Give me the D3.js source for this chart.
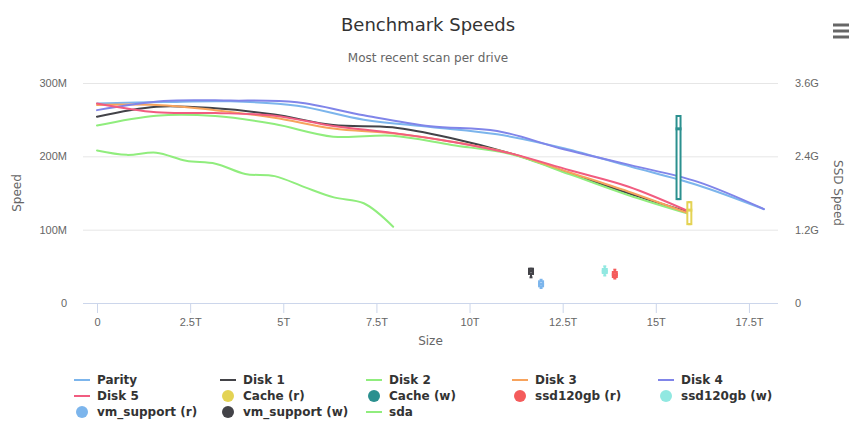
<!DOCTYPE html>
<html>
<head>
<meta charset="utf-8">
<script src="https://cdn.jsdelivr.net/npm/d3@7"></script>
<style>
  html, body { margin: 0; padding: 0; background: #fff; }
  svg { display: block; font-family: "DejaVu Sans", sans-serif; }
</style>
</head>
<body>
<svg id="chart" width="850" height="438"></svg>
<script>
// tick values
const sizeTicks = [0, 2.5, 5, 7.5, 10, 12.5, 15, 17.5];
const speedTicks = [0, 100, 200, 300];
const ssdTicks = [0, 1.2, 2.4, 3.6];

// scan positions (T) per drive size
const pos18 = [0, 1.79, 3.58, 5.37, 7.16, 8.95, 10.74, 12.53, 14.32, 16.11, 17.9];
const pos16 = [0, 1.59, 3.17, 4.76, 6.34, 7.93, 9.52, 11.1, 12.69, 14.27, 15.86];
const pos8 = [0, 0.8, 1.59, 2.39, 3.18, 3.98, 4.77, 5.57, 6.36, 7.16, 7.95];

// speeds (M)
const parity = [272, 274, 275, 269, 250, 240, 230, 211, 186, 161, 128];
const disk1 = [254, 267.7, 265.5, 257, 242.7, 239.6, 224.6, 204, 177, 149.6, 124];
const disk2 = [242, 255.5, 255, 244, 226.8, 228, 215.5, 203, 175.5, 147, 122];
const disk3 = [270, 270, 263, 252.7, 238, 231.4, 220, 204, 178, 151.8, 122.7];
const disk4 = [263, 275.5, 276, 273.7, 256, 241, 234.5, 209.6, 188, 165.5, 128];
const disk5 = [272, 260, 259, 255.5, 241.4, 232, 220, 204, 181, 158.6, 125.5];
const sda = [208, 202, 205, 194, 190, 176, 173, 158, 144, 136, 104];

// ssd box stats (G): [x, low, q1, median, q3, high]
const cacheRead = [15.9, 1.29, 1.29, 1.52, 1.65, 1.65];
const cacheWrite = [15.61, 1.7, 1.7, 2.85, 3.06, 3.06];
const ssdRead = [13.9, 0.4, 0.425, 0.465, 0.507, 0.545];
const ssdWrite = [13.63, 0.45, 0.49, 0.52, 0.556, 0.6];
const vmRead = [11.92, 0.245, 0.273, 0.31, 0.355, 0.38];
const vmWrite = [11.65, 0.42, 0.475, 0.52, 0.561, 0.561];

const series = [
  { name: 'Parity', type: 'line', pos: pos18, values: parity, color: '#7cb5ec' },
  { name: 'Disk 1', type: 'line', pos: pos16, values: disk1, color: '#434348' },
  { name: 'Disk 2', type: 'line', pos: pos16, values: disk2, color: '#90ed7d' },
  { name: 'Disk 3', type: 'line', pos: pos16, values: disk3, color: '#f7a35c' },
  { name: 'Disk 4', type: 'line', pos: pos18, values: disk4, color: '#8085e9' },
  { name: 'Disk 5', type: 'line', pos: pos16, values: disk5, color: '#f15c80' },
  { name: 'Cache (r)', type: 'box', stats: cacheRead, color: '#e4d354' },
  { name: 'Cache (w)', type: 'box', stats: cacheWrite, color: '#2b908f' },
  { name: 'ssd120gb (r)', type: 'box', stats: ssdRead, color: '#f45b5b' },
  { name: 'ssd120gb (w)', type: 'box', stats: ssdWrite, color: '#91e8e1' },
  { name: 'vm_support (r)', type: 'box', stats: vmRead, color: '#7cb5ec' },
  { name: 'vm_support (w)', type: 'box', stats: vmWrite, color: '#434348' },
  { name: 'sda', type: 'line', pos: pos8, values: sda, color: '#90ed7d' }
];

const svg = d3.select('#chart');
const plot = { left: 83, right: 778, top: 83, bottom: 303 };

const x = d3.scaleLinear().domain([-0.376, 18.28]).range([plot.left, plot.right]);
const y = d3.scaleLinear().domain([0, 300]).range([plot.bottom, plot.top]);
const y2 = d3.scaleLinear().domain([0, 3.6]).range([plot.bottom, plot.top]);

// titles
svg.append('text')
  .attr('x', 428).attr('y', 31)
  .attr('text-anchor', 'middle')
  .attr('fill', '#333333').style('font-size', '18px')
  .text('Benchmark Speeds');

svg.append('text')
  .attr('x', 428).attr('y', 62)
  .attr('text-anchor', 'middle')
  .attr('fill', '#666666').style('font-size', '12px')
  .text('Most recent scan per drive');

// menu icon
svg.append('g').selectAll('line')
  .data([25, 31, 37])
  .join('line')
  .attr('x1', 833).attr('x2', 849)
  .attr('y1', d => d).attr('y2', d => d)
  .attr('stroke', '#666666').attr('stroke-width', 3);

// grid + left axis
const leftAxis = svg.append('g')
  .attr('transform', `translate(${plot.left},0)`)
  .call(d3.axisLeft(y).tickValues(speedTicks).tickSize(-(plot.right - plot.left)).tickPadding(16)
    .tickFormat(d => d === 0 ? '0' : d + 'M'));
leftAxis.select('.domain').remove();
leftAxis.selectAll('line').attr('stroke', '#e6e6e6');
leftAxis.selectAll('text').attr('fill', '#666666').style('font-size', '11px').attr('font-family', null);

const rightAxis = svg.append('g')
  .attr('transform', `translate(${plot.right},0)`)
  .call(d3.axisRight(y2).tickValues(ssdTicks).tickSize(0).tickPadding(17)
    .tickFormat(d => d === 0 ? '0' : d3.format('.1f')(d) + 'G'));
rightAxis.select('.domain').remove();
rightAxis.selectAll('text').attr('fill', '#666666').style('font-size', '11px').attr('font-family', null);

// x axis
const bottomAxis = svg.append('g')
  .attr('transform', `translate(0,${plot.bottom})`)
  .call(d3.axisBottom(x).tickValues(sizeTicks).tickSize(10).tickPadding(5)
    .tickFormat(d => d === 0 ? '0' : d + 'T'));
bottomAxis.select('.domain').attr('stroke', '#ccd6eb').attr('d', `M${plot.left},0.5H${plot.right}`);
bottomAxis.selectAll('line').attr('stroke', '#ccd6eb');
bottomAxis.selectAll('text').attr('fill', '#666666').style('font-size', '11px').attr('font-family', null);

// axis titles
svg.append('text')
  .attr('transform', `translate(21,${(plot.top + plot.bottom) / 2}) rotate(-90)`)
  .attr('text-anchor', 'middle')
  .attr('fill', '#666666').style('font-size', '12px')
  .text('Speed');

svg.append('text')
  .attr('transform', `translate(834,${(plot.top + plot.bottom) / 2}) rotate(90)`)
  .attr('text-anchor', 'middle')
  .attr('fill', '#666666').style('font-size', '12px')
  .text('SSD Speed');

svg.append('text')
  .attr('x', (plot.left + plot.right) / 2).attr('y', 345)
  .attr('text-anchor', 'middle')
  .attr('fill', '#666666').style('font-size', '12px')
  .text('Size');

// series
const line = d3.line()
  .x(d => x(d[0]))
  .y(d => y(d[1]))
  .curve(d3.curveCatmullRom.alpha(0.5));

const layer = svg.append('g');

series.forEach(s => {
  if (s.type === 'line') {
    layer.append('path')
      .datum(d3.zip(s.pos, s.values))
      .attr('fill', 'none')
      .attr('stroke', s.color)
      .attr('stroke-width', 2)
      .attr('stroke-linejoin', 'round')
      .attr('stroke-linecap', 'round')
      .attr('d', line);
  } else {
    const [px, low, q1, med, q3, high] = s.stats;
    const cx = x(px);
    const g = layer.append('g');
    g.append('line')
      .attr('x1', cx).attr('x2', cx)
      .attr('y1', y2(low)).attr('y2', y2(high))
      .attr('stroke', s.color).attr('stroke-width', 2);
    g.append('rect')
      .attr('x', cx - 2).attr('width', 4)
      .attr('y', y2(q3)).attr('height', y2(q1) - y2(q3))
      .attr('fill', '#ffffff')
      .attr('stroke', s.color).attr('stroke-width', 2);
    g.selectAll('.whisker')
      .data([low, high])
      .join('line')
      .attr('class', 'whisker')
      .attr('x1', cx - 1.5).attr('x2', cx + 1.5)
      .attr('y1', d => y2(d)).attr('y2', d => y2(d))
      .attr('stroke', s.color).attr('stroke-width', 2);
    g.append('line')
      .attr('x1', cx - 3).attr('x2', cx + 3)
      .attr('y1', y2(med)).attr('y2', y2(med))
      .attr('stroke', s.color).attr('stroke-width', 3);
  }
});

// legend
const legendCols = [74, 220, 366, 512, 658];
const legendRows = [380, 396, 412];

const items = svg.append('g')
  .selectAll('g')
  .data(series)
  .join('g')
  .attr('transform', (d, i) => `translate(${legendCols[i % 5]},${legendRows[Math.floor(i / 5)]})`);

items.filter(d => d.type === 'line')
  .append('line')
  .attr('x1', 0).attr('x2', 16)
  .attr('stroke', d => d.color).attr('stroke-width', 2);

items.filter(d => d.type === 'box')
  .append('circle')
  .attr('cx', 8).attr('r', 6)
  .attr('fill', d => d.color);

items.append('text')
  .attr('x', 23).attr('dy', '0.35em')
  .attr('fill', '#333333')
  .style('font-size', '12px').style('font-weight', 'bold')
  .text(d => d.name);
</script>
</body>
</html>
